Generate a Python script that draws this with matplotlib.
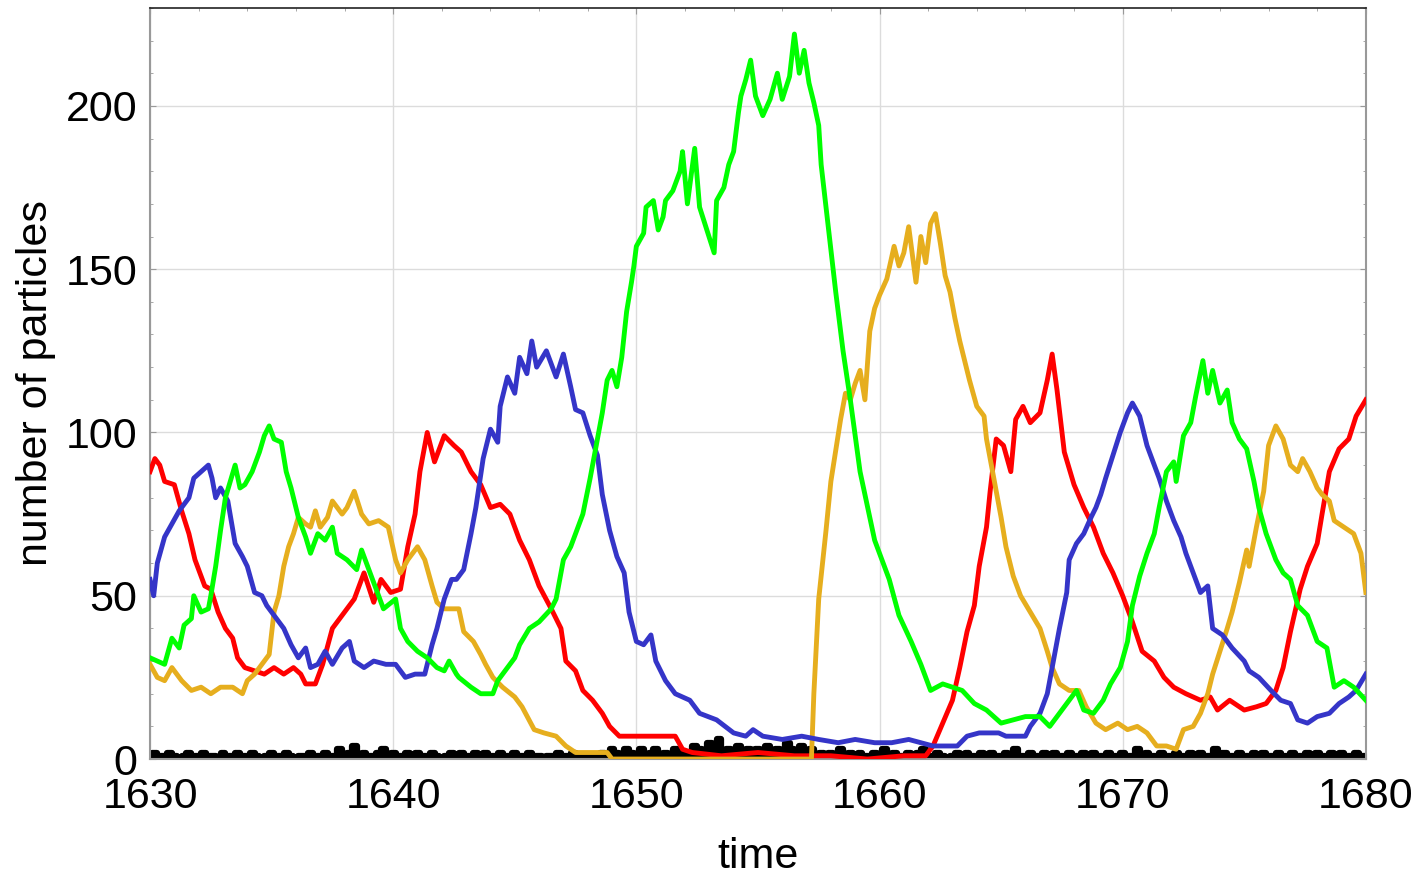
import numpy as np
import matplotlib
matplotlib.use('Agg')
import matplotlib.pyplot as plt
from matplotlib.ticker import MultipleLocator

plt.rcParams['font.family'] = ['Liberation Sans', 'DejaVu Sans']

# (time, count) readings per species
red = [(1630, 88), (1630.2, 92), (1630.4, 90), (1630.6, 85), (1631.0, 84), (1631.3, 76), (1631.6, 69),
       (1631.85, 61), (1632.25, 53), (1632.5, 52), (1632.8, 45), (1633.1, 40), (1633.4, 37), (1633.6, 31),
       (1633.9, 28), (1634.3, 27), (1634.7, 26), (1635.1, 28), (1635.5, 26), (1635.9, 28), (1636.2, 26),
       (1636.4, 23), (1636.8, 23), (1637.1, 29), (1637.5, 40), (1638.0, 45), (1638.4, 49), (1638.8, 57),
       (1639.2, 48), (1639.5, 55), (1639.9, 51), (1640.3, 52), (1640.6, 65), (1640.9, 75), (1641.1, 88),
       (1641.4, 100), (1641.7, 91), (1642.1, 99), (1642.5, 96), (1642.8, 94), (1643.2, 88), (1643.6, 84),
       (1644.0, 77), (1644.4, 78), (1644.8, 75), (1645.2, 67), (1645.6, 61), (1646.0, 53), (1646.5, 46),
       (1646.9, 40), (1647.1, 30), (1647.5, 27), (1647.8, 21), (1648.2, 18), (1648.6, 14), (1648.9, 10),
       (1649.3, 7), (1650.5, 7), (1651.6, 7), (1651.9, 3), (1652.3, 2), (1653.5, 1), (1655, 2),
       (1656.5, 1), (1658, 1), (1659.5, 0), (1661, 1), (1661.9, 1), (1662.2, 4), (1662.6, 11),
       (1663.0, 18), (1663.3, 28), (1663.6, 39), (1663.9, 47), (1664.1, 59), (1664.4, 71), (1664.55, 82),
       (1664.8, 98), (1665.1, 96), (1665.4, 88), (1665.6, 104), (1665.9, 108), (1666.2, 103), (1666.6, 106),
       (1666.9, 116), (1667.1, 124), (1667.3, 113), (1667.6, 94), (1668.0, 84), (1668.4, 77), (1668.8, 71),
       (1669.2, 63), (1669.6, 57), (1670.0, 50), (1670.4, 42), (1670.8, 33), (1671.3, 30), (1671.7, 25),
       (1672.1, 22), (1672.6, 20), (1673.2, 18), (1673.6, 19), (1673.9, 15), (1674.4, 18), (1675.0, 15),
       (1675.5, 16), (1675.9, 17), (1676.3, 21), (1676.6, 28), (1676.9, 39), (1677.3, 52), (1677.6, 59),
       (1678.0, 66), (1678.2, 75), (1678.5, 88), (1678.9, 95), (1679.3, 98), (1679.6, 105), (1680.0, 110)]

blue = [(1630, 55), (1630.15, 50), (1630.3, 60), (1630.6, 68), (1630.9, 72), (1631.2, 76), (1631.6, 80),
        (1631.8, 86), (1632.1, 88), (1632.4, 90), (1632.55, 86), (1632.7, 80), (1632.9, 83), (1633.2, 79),
        (1633.5, 66), (1633.8, 62), (1634.0, 59), (1634.3, 51), (1634.6, 50), (1634.8, 47), (1635.1, 44),
        (1635.5, 40), (1635.8, 35), (1636.1, 31), (1636.4, 34), (1636.6, 28), (1636.9, 29), (1637.2, 33),
        (1637.5, 29), (1637.9, 34), (1638.2, 36), (1638.4, 30), (1638.8, 28), (1639.2, 30), (1639.7, 29),
        (1640.1, 29), (1640.5, 25), (1640.9, 26), (1641.3, 26), (1641.6, 35), (1641.8, 40), (1642.1, 49),
        (1642.4, 55), (1642.6, 55), (1642.9, 58), (1643.2, 69), (1643.4, 77), (1643.7, 92), (1644.0, 101),
        (1644.3, 97), (1644.4, 108), (1644.7, 117), (1645.0, 112), (1645.2, 123), (1645.5, 118),
        (1645.7, 128), (1645.9, 120), (1646.3, 125), (1646.7, 117), (1647.0, 124), (1647.3, 114),
        (1647.5, 107), (1647.8, 106), (1648.1, 99), (1648.4, 93), (1648.6, 81), (1648.9, 70), (1649.2, 62),
        (1649.5, 57), (1649.7, 45), (1650.0, 36), (1650.3, 35), (1650.6, 38), (1650.8, 30), (1651.2, 24),
        (1651.6, 20), (1652.2, 18), (1652.6, 14), (1653.3, 12), (1654.0, 8), (1654.5, 7), (1654.8, 9),
        (1655.2, 7), (1656.0, 6), (1656.8, 7), (1657.5, 6), (1658.3, 5), (1659.0, 6), (1659.8, 5),
        (1660.5, 5), (1661.2, 6), (1662.2, 4), (1663.2, 4), (1663.6, 7), (1664.1, 8), (1664.9, 8),
        (1665.2, 7), (1666.0, 7), (1666.2, 10), (1666.6, 14), (1666.9, 20), (1667.1, 28), (1667.4, 40),
        (1667.7, 51), (1667.8, 61), (1668.1, 66), (1668.4, 69), (1668.7, 74), (1668.9, 77), (1669.1, 81),
        (1669.3, 86), (1669.6, 93), (1669.9, 100), (1670.2, 106), (1670.4, 109), (1670.7, 105),
        (1671.0, 96), (1671.3, 90), (1671.5, 86), (1671.8, 79), (1672.1, 73), (1672.4, 68), (1672.6, 63),
        (1672.9, 57), (1673.2, 51), (1673.5, 53), (1673.7, 40), (1674.1, 38), (1674.5, 34), (1675.0, 30),
        (1675.2, 27), (1675.6, 25), (1676.1, 21), (1676.5, 18), (1676.9, 17), (1677.2, 12), (1677.6, 11),
        (1678.0, 13), (1678.5, 14), (1678.9, 17), (1679.3, 19), (1679.6, 21), (1680.0, 26)]

green = [(1630, 31), (1630.3, 30), (1630.6, 29), (1630.9, 37), (1631.2, 34), (1631.4, 41), (1631.7, 43),
         (1631.8, 50), (1632.1, 45), (1632.4, 46), (1632.5, 50), (1632.7, 59), (1632.9, 70), (1633.1, 80),
         (1633.3, 85), (1633.5, 90), (1633.7, 83), (1633.9, 84), (1634.2, 88), (1634.5, 94), (1634.7, 99),
         (1634.9, 102), (1635.1, 98), (1635.4, 97), (1635.6, 88), (1635.8, 83), (1636.1, 74), (1636.4, 68),
         (1636.6, 63), (1636.9, 69), (1637.2, 67), (1637.5, 71), (1637.7, 63), (1638.1, 61), (1638.5, 58),
         (1638.7, 64), (1639.1, 56), (1639.3, 52), (1639.6, 46), (1640.1, 49), (1640.3, 40), (1640.6, 36),
         (1641.0, 33), (1641.4, 31), (1641.8, 28), (1642.1, 27), (1642.3, 30), (1642.6, 26), (1642.7, 25),
         (1643.2, 22), (1643.6, 20), (1644.1, 20), (1644.3, 24), (1644.7, 28), (1645.0, 31), (1645.2, 35),
         (1645.6, 40), (1646.0, 42), (1646.5, 46), (1646.7, 49), (1647.0, 61), (1647.3, 65), (1647.5, 69),
         (1647.8, 75), (1648.1, 86), (1648.4, 98), (1648.6, 106), (1648.8, 116), (1649.0, 119),
         (1649.2, 114), (1649.4, 123), (1649.6, 137), (1649.8, 146), (1649.9, 151), (1650.0, 157),
         (1650.3, 161), (1650.4, 169), (1650.7, 171), (1650.9, 162), (1651.1, 166), (1651.2, 171),
         (1651.5, 174), (1651.8, 180), (1651.9, 186), (1652.1, 170), (1652.4, 187), (1652.6, 169),
         (1652.9, 162), (1653.2, 155), (1653.3, 171), (1653.6, 175), (1653.8, 182), (1654.0, 186),
         (1654.2, 198), (1654.3, 203), (1654.5, 208), (1654.7, 214), (1654.9, 203), (1655.2, 197),
         (1655.5, 202), (1655.8, 210), (1656.0, 202), (1656.3, 209), (1656.5, 222), (1656.7, 210),
         (1656.9, 217), (1657.1, 207), (1657.3, 201), (1657.5, 194), (1657.6, 182), (1657.8, 169),
         (1658.0, 156), (1658.2, 143), (1658.5, 125), (1658.8, 110), (1659.2, 88), (1659.8, 67),
         (1660.4, 55), (1660.8, 44), (1661.3, 36), (1661.7, 29), (1662.1, 21), (1662.6, 23), (1663.0, 22),
         (1663.4, 21), (1663.9, 17), (1664.4, 15), (1665.0, 11), (1665.5, 12), (1666.0, 13), (1666.6, 13),
         (1667.0, 10), (1667.4, 14), (1667.8, 18), (1668.1, 21), (1668.4, 15), (1668.8, 14), (1669.2, 18),
         (1669.5, 23), (1669.9, 28), (1670.2, 36), (1670.4, 47), (1670.7, 56), (1671.0, 63), (1671.3, 69),
         (1671.5, 77), (1671.8, 88), (1672.1, 91), (1672.2, 85), (1672.5, 99), (1672.8, 103), (1673.0, 111),
         (1673.3, 122), (1673.5, 112), (1673.7, 119), (1674.0, 109), (1674.3, 113), (1674.5, 103),
         (1674.8, 98), (1675.1, 95), (1675.4, 85), (1675.6, 77), (1675.9, 69), (1676.3, 61), (1676.6, 57),
         (1676.9, 55), (1677.2, 47), (1677.6, 44), (1678.0, 36), (1678.4, 34), (1678.7, 22), (1679.1, 24),
         (1679.5, 22), (1680.0, 18)]

yellow = [(1630, 29), (1630.3, 25), (1630.6, 24), (1630.9, 28), (1631.3, 24), (1631.7, 21), (1632.1, 22),
          (1632.5, 20), (1632.9, 22), (1633.4, 22), (1633.8, 20), (1634.0, 24), (1634.3, 26), (1634.6, 29),
          (1634.9, 32), (1635.1, 45), (1635.3, 50), (1635.5, 59), (1635.7, 65), (1635.9, 69), (1636.1, 74),
          (1636.4, 72), (1636.6, 71), (1636.8, 76), (1637.0, 71), (1637.3, 74), (1637.5, 79), (1637.9, 75),
          (1638.1, 77), (1638.4, 82), (1638.7, 75), (1639.0, 72), (1639.4, 73), (1639.8, 71), (1640.1, 61),
          (1640.3, 57), (1640.6, 61), (1641.0, 65), (1641.3, 61), (1641.6, 53), (1641.8, 48), (1642.1, 46),
          (1642.5, 46), (1642.7, 46), (1642.9, 39), (1643.3, 36), (1643.6, 32), (1643.8, 29), (1644.1, 25),
          (1644.5, 22), (1645.0, 19), (1645.3, 16), (1645.8, 9), (1646.2, 8), (1646.7, 7), (1647.1, 4),
          (1647.5, 2), (1648.2, 2), (1648.8, 2), (1649.0, 0), (1657.2, 0), (1657.3, 20), (1657.5, 49),
          (1657.8, 70), (1658.0, 85), (1658.4, 104), (1658.6, 112), (1658.8, 110), (1659.0, 115),
          (1659.2, 119), (1659.4, 110), (1659.6, 131), (1659.8, 138), (1660.0, 142), (1660.3, 147),
          (1660.6, 157), (1660.8, 151), (1661.0, 155), (1661.2, 163), (1661.5, 146), (1661.7, 160),
          (1661.9, 152), (1662.1, 164), (1662.3, 167), (1662.5, 158), (1662.7, 148), (1662.9, 143),
          (1663.1, 135), (1663.3, 128), (1663.7, 116), (1664.0, 108), (1664.3, 105), (1664.4, 98),
          (1664.7, 86), (1665.0, 74), (1665.2, 65), (1665.5, 56), (1665.8, 50), (1666.2, 45), (1666.6, 40),
          (1666.9, 33), (1667.1, 28), (1667.4, 23), (1667.8, 21), (1668.2, 21), (1668.5, 16), (1668.9, 11),
          (1669.3, 9), (1669.8, 11), (1670.2, 9), (1670.6, 10), (1671.0, 8), (1671.4, 4), (1671.8, 4),
          (1672.2, 3), (1672.5, 9), (1672.9, 10), (1673.2, 14), (1673.5, 20), (1673.7, 26), (1674.0, 33),
          (1674.3, 40), (1674.5, 45), (1674.8, 54), (1675.1, 64), (1675.2, 59), (1675.5, 71), (1675.8, 82),
          (1676.0, 96), (1676.3, 102), (1676.6, 98), (1676.9, 90), (1677.2, 88), (1677.4, 92), (1677.7, 88),
          (1678.0, 83), (1678.2, 81), (1678.5, 79), (1678.7, 73), (1679.1, 71), (1679.5, 69), (1679.8, 63),
          (1680.0, 51)]

# black trace sampled every 0.2 time units from 1630
black = [1, 2, 1, 1, 2, 1, 0, 1, 2, 1, 1, 2, 1, 1, 0, 2, 1, 1, 2, 1, 1, 2, 1, 0, 1,
         2, 1, 1, 2, 1, 0, 1, 1, 2, 1, 1, 2, 1, 1, 3, 1, 2, 4, 1, 2, 1, 1, 2, 3, 1,
         2, 1, 1, 2, 1, 2, 1, 1, 2, 1, 0, 1, 2, 1, 2, 1, 1, 2, 1, 2, 1, 1, 2, 1, 1,
         2, 1, 1, 2, 1, 1, 0, 1, 1, 2, 1, 1, 2, 1, 1, 1, 0, 1, 2, 1, 3, 2, 1, 3, 2,
         1, 3, 1, 2, 3, 1, 2, 1, 3, 2, 1, 2, 4, 3, 2, 5, 3, 6, 2, 3, 1, 4, 2, 3, 2,
         3, 1, 4, 2, 3, 2, 5, 3, 1, 4, 2, 3, 1, 2, 1, 2, 1, 3, 1, 2, 1, 2, 1, 1, 2,
         1, 3, 1, 2, 1, 1, 2, 1, 2, 3, 1, 1, 2, 1, 0, 1, 2, 1, 2, 1, 1, 2, 1, 2, 1,
         1, 2, 1, 3, 1, 1, 2, 1, 1, 2, 1, 2, 1, 1, 2, 1, 1, 2, 1, 2, 1, 1, 2, 1, 1,
         2, 1, 1, 3, 1, 2, 1, 1, 2, 1, 1, 2, 1, 1, 2, 1, 2, 1, 1, 3, 1, 2, 1, 1, 2,
         1, 1, 2, 1, 2, 1, 1, 2, 1, 1, 2, 1, 1, 2, 1, 2, 1, 1, 2, 1, 2, 1, 1, 2, 1, 1]
black_t = 1630 + 0.2 * np.arange(len(black))

fig = plt.figure(figsize=(14.22, 8.77), dpi=100)
ax = fig.add_axes([0.1055, 0.1345, 0.855, 0.8565])

ax.fill_between(black_t, black, step='mid', color='black', lw=0, zorder=2)
ax.plot(black_t, black, color='black', lw=4.5, drawstyle='steps-mid', zorder=2)
for data, col in [(red, '#ff0000'), (yellow, '#e6ae1e'), (blue, '#3535c8'), (green, '#00ff00')]:
    t, v = zip(*data)
    ax.plot(t, v, color=col, lw=3.5, zorder=3)

ax.set_xlim(1630, 1680)
ax.set_ylim(0, 230)
ax.xaxis.set_major_locator(MultipleLocator(10))
ax.xaxis.set_minor_locator(MultipleLocator(2))
ax.yaxis.set_major_locator(MultipleLocator(50))
ax.yaxis.set_minor_locator(MultipleLocator(10))
ax.grid(True, which='major', color='#dcdcdc', lw=1)
ax.set_axisbelow(True)
ax.tick_params(which='both', direction='in', top=True, right=True, color='#999999')
ax.tick_params(which='major', length=4, labelsize=31)
ax.tick_params(axis='x', which='major', pad=13)
ax.tick_params(axis='y', which='major', pad=9)
ax.tick_params(which='minor', length=2.5)
for s in ['left', 'right', 'bottom']:
    ax.spines[s].set_color('#999999')
    ax.spines[s].set_linewidth(1.5)
ax.spines['top'].set_color('#222222')
ax.spines['top'].set_linewidth(1.2)

ax.set_xlabel('time', fontsize=31, labelpad=14)
ax.set_ylabel('number of particles', fontsize=31, labelpad=7)

fig.savefig('out.png', dpi=100)
